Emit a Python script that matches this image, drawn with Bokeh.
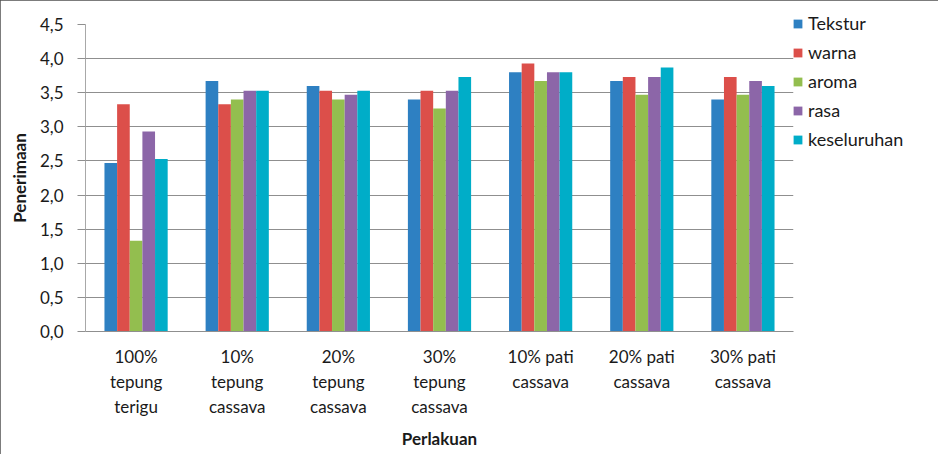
from bokeh.plotting import figure
from bokeh.models import ColumnDataSource, FactorRange, Range1d, FixedTicker, Legend, LegendItem
from bokeh.transform import dodge
from bokeh.embed import file_html
from bokeh.resources import INLINE

categories = ["100%\ntepung\nterigu", "10%\ntepung\ncassava", "20%\ntepung\ncassava",
              "30%\ntepung\ncassava", "10% pati\ncassava", "20% pati\ncassava", "30% pati\ncassava"]
series_names = ["Tekstur", "warna", "aroma", "rasa", "keseluruhan"]
tekstur = [2.47, 3.67, 3.60, 3.40, 3.80, 3.67, 3.40]
warna = [3.33, 3.33, 3.53, 3.53, 3.93, 3.73, 3.73]
aroma = [1.33, 3.40, 3.40, 3.27, 3.67, 3.47, 3.47]
rasa = [2.93, 3.53, 3.47, 3.53, 3.80, 3.73, 3.67]
keseluruhan = [2.53, 3.53, 3.53, 3.73, 3.80, 3.87, 3.60]
y_ticks = [0.0, 0.5, 1.0, 1.5, 2.0, 2.5, 3.0, 3.5, 4.0, 4.5]
y_tick_labels = ["0,0", "0,5", "1,0", "1,5", "2,0", "2,5", "3,0", "3,5", "4,0", "4,5"]
colors = ["#2e80c2", "#dc4f4a", "#93be4f", "#8c66a8", "#00adc8"]

FONT = "Lato"
TXT = "#1a1a1a"

source = ColumnDataSource(data=dict(cat=categories, Tekstur=tekstur, warna=warna,
                                    aroma=aroma, rasa=rasa, keseluruhan=keseluruhan))

p = figure(x_range=FactorRange(*categories, range_padding=0), y_range=Range1d(0, 4.5),
           frame_width=708, frame_height=307, output_backend="svg", toolbar_location=None,
           min_border_left=85, min_border_right=145, min_border_top=24, min_border_bottom=123)
p.styles = {"outline": "1px solid #505050", "outline-offset": "-1px"}

bar_w = 0.125
offsets = [-0.25, -0.125, 0.0, 0.125, 0.25]
items = []
for name, off, col in zip(series_names, offsets, colors):
    r = p.vbar(x=dodge("cat", off, range=p.x_range), top=name, width=bar_w, source=source,
               fill_color=col, line_color=None)
    items.append(LegendItem(label=name, renderers=[r]))

legend = Legend(items=items, location=(-1, 181), orientation="vertical",
                glyph_width=11, glyph_height=11, label_height=21, spacing=7,
                label_standoff=5, padding=0, margin=0, border_line_color=None,
                background_fill_alpha=0, label_text_font=FONT, label_text_font_size="18px",
                label_text_color=TXT)
p.add_layout(legend, "right")

p.outline_line_color = None
p.xgrid.grid_line_color = None
p.ygrid.grid_line_color = "#8f8f8f"
p.ygrid.grid_line_width = 1

p.yaxis.ticker = FixedTicker(ticks=y_ticks)
p.yaxis.major_label_overrides = {t: l for t, l in zip(y_ticks, y_tick_labels)}
p.yaxis.axis_line_color = "#a8a8a8"
p.yaxis.major_tick_line_color = "#8f8f8f"
p.yaxis.major_tick_out = 8
p.yaxis.major_tick_in = 0
p.yaxis.minor_tick_line_color = None
p.yaxis.major_label_standoff = 14
p.yaxis.major_label_text_font = FONT
p.yaxis.major_label_text_font_size = "17px"
p.yaxis.major_label_text_color = TXT
p.yaxis.axis_label = "Penerimaan"
p.yaxis.axis_label_text_font = FONT
p.yaxis.axis_label_text_font_style = "bold"
p.yaxis.axis_label_text_font_size = "17px"
p.yaxis.axis_label_text_color = TXT
p.yaxis.axis_label_standoff = 7

p.xaxis.axis_line_color = "#8f8f8f"
p.xaxis.major_tick_line_color = None
p.xaxis.minor_tick_line_color = None
p.xaxis.major_label_standoff = 8
p.xaxis.major_label_text_font = FONT
p.xaxis.major_label_text_font_size = "17px"
p.xaxis.major_label_text_line_height = 1.2
p.xaxis.major_label_text_color = TXT
p.xaxis.axis_label = "Perlakuan"
p.xaxis.axis_label_text_font = FONT
p.xaxis.axis_label_text_font_style = "bold"
p.xaxis.axis_label_text_font_size = "17px"
p.xaxis.axis_label_text_color = TXT
p.xaxis.axis_label_standoff = 8

open("out.html", "w").write(file_html(p, INLINE))
